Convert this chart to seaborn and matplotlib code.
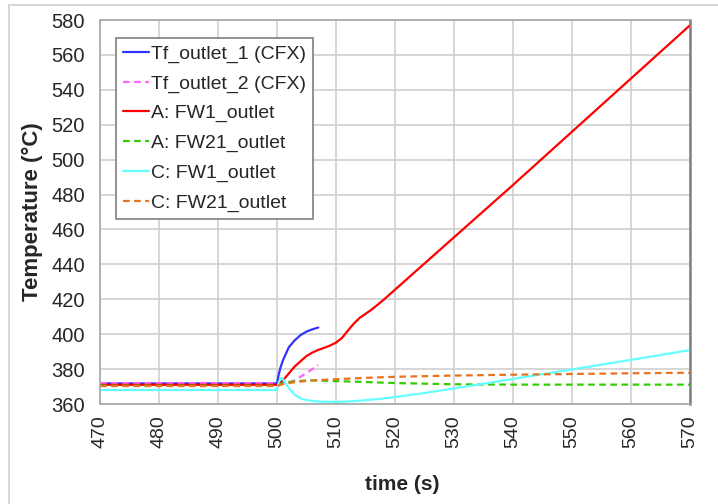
import matplotlib.pyplot as plt
import matplotlib.lines as mlines
import seaborn as sns
import pandas as pd

# data
t_cfx1 = [470, 500, 500.3, 500.6, 501, 502, 503, 504, 505, 506, 507]
T_cfx1 = [371.8, 371.8, 377, 381, 385, 392.5, 396.5, 399.5, 401.5, 402.8, 403.8]

t_cfx2 = [470, 501, 502, 503, 505, 507]
T_cfx2 = [372.0, 372.0, 372.5, 373.5, 377.8, 382.3]

t_a_fw1 = [470, 500, 501, 502, 503, 504, 505, 506, 507, 508, 509, 510, 511, 512, 513, 514, 516, 518, 520, 530, 540, 550, 560, 570]
T_a_fw1 = [371.0, 371.0, 373.5, 377.5, 381.5, 384.5, 387.5, 389.5, 391.0, 392.2, 393.5, 395.2, 397.8, 402.0, 406.0, 409.3, 414.0, 419.5, 425.5, 455.5, 485.5, 516.0, 546.5, 577.0]

t_a_fw21 = [470, 500, 501, 503, 505, 507, 510, 515, 520, 530, 540, 550, 560, 570]
T_a_fw21 = [370.5, 370.5, 372.0, 373.0, 373.5, 373.5, 373.1, 372.6, 372.0, 371.3, 371.1, 371.1, 371.1, 371.1]

t_c_fw1 = [470, 500, 500.3, 500.7, 501.2, 502, 503, 504, 505, 507, 510, 513, 517, 520, 525, 530, 540, 550, 560, 570]
T_c_fw1 = [368.0, 368.0, 372.5, 375.0, 373.5, 369.0, 365.3, 363.2, 362.2, 361.4, 361.2, 361.6, 362.8, 364.0, 366.3, 368.9, 374.4, 379.8, 385.3, 390.9]

t_c_fw21 = [470, 500, 501, 503, 505, 507, 510, 515, 520, 530, 540, 550, 560, 570]
T_c_fw21 = [370.3, 370.3, 371.4, 372.5, 373.2, 373.7, 374.2, 375.0, 375.6, 376.3, 376.8, 377.2, 377.6, 377.9]

labels = ['Tf_outlet_1 (CFX)', 'Tf_outlet_2 (CFX)', 'A: FW1_outlet',
          'A: FW21_outlet', 'C: FW1_outlet', 'C: FW21_outlet']
colors = ['#3333ff', '#ff66ff', '#ff0000', '#33cc00', '#66ffff', '#e8731f']
dashed = [False, True, False, True, False, True]

sns.set_style('white')
plt.rcParams['font.family'] = ['Liberation Sans', 'DejaVu Sans']

fig = plt.figure(figsize=(7.18, 5.04), dpi=100)
ax = fig.add_axes([0.1393, 0.1984, 0.8217, 0.7619])

series = [(t_cfx1, T_cfx1), (t_cfx2, T_cfx2), (t_a_fw1, T_a_fw1),
          (t_a_fw21, T_a_fw21), (t_c_fw1, T_c_fw1), (t_c_fw21, T_c_fw21)]
handles = []
for (t, T), lab, c, d in zip(series, labels, colors, dashed):
    df = pd.DataFrame({'time': t, 'temp': T})
    ls = (0, (3, 2)) if d else '-'
    sns.lineplot(data=df, x='time', y='temp', ax=ax, color=c, linewidth=1.6,
                 linestyle=ls, sort=False, estimator=None)
    handles.append(mlines.Line2D([], [], color=c, linewidth=1.6, linestyle=ls, label=lab))

ax.set_xlim(470, 570)
ax.set_ylim(360, 580)
ax.set_xticks(range(470, 571, 10))
ax.set_yticks(range(360, 581, 20))
ax.grid(True, which='major', color='#cfcfcf', linewidth=1.2)
ax.set_axisbelow(True)

ax.minorticks_on()
ax.set_xticks(range(475, 570, 10), minor=True)
ax.set_yticks(range(370, 580, 20), minor=True)
ax.tick_params(axis='x', which='major', direction='out', length=4, width=1,
               color='#999999', labelsize=14, rotation=90, pad=4)
ax.tick_params(axis='x', which='minor', direction='out', length=4, width=1, color='#999999')
ax.tick_params(axis='y', which='major', direction='out', length=4, width=1,
               color='#999999', labelsize=14.5, pad=7)
ax.tick_params(axis='y', which='minor', direction='in', length=4, width=1, color='#999999')

for side in ['left', 'bottom', 'top']:
    ax.spines[side].set_color('#a6a6a6')
    ax.spines[side].set_linewidth(1.2)
ax.spines['right'].set_color('#808080')
ax.spines['right'].set_linewidth(1.8)

ax.set_xlabel('time (s)', fontsize=15, fontweight='bold')
ax.xaxis.set_label_coords(0.512, -0.185)
ax.set_ylabel('Temperature (°C)', fontsize=16, fontweight='bold', labelpad=6)

leg = ax.legend(handles=handles, loc='upper left', bbox_to_anchor=(0.027, 0.953),
                fontsize=14, frameon=True, fancybox=False, handlelength=1.35,
                handletextpad=0.1, labelspacing=0.62, borderpad=0.35,
                borderaxespad=0, framealpha=1)
leg.get_frame().set_edgecolor('#808080')
leg.get_frame().set_linewidth(1.2)

# outer frame of the original slide
fig.add_artist(mlines.Line2D([9 / 718, 9 / 718], [0, 1 - 5 / 504], color='#d0d0d0', linewidth=1.2))
fig.add_artist(mlines.Line2D([9 / 718, 1], [1 - 5 / 504, 1 - 5 / 504], color='#d0d0d0', linewidth=1.2))

fig.savefig('out.png', dpi=100)
